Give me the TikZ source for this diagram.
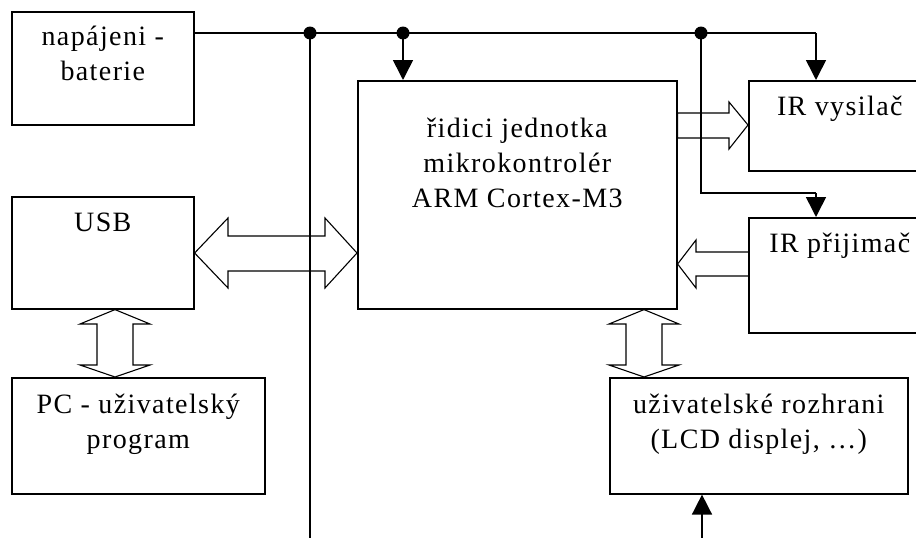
\documentclass[tikz,border=0pt]{standalone}
\usepackage{fontspec}
\setmainfont[LetterSpace=5]{Liberation Serif}
\usetikzlibrary{arrows.meta,calc}
\newcommand\tstrut{\rule{0pt}{28pt}}
\begin{document}
\begin{tikzpicture}[x=1pt,y=-1pt,
  box/.style={draw, line width=1.6pt, anchor=north west, inner sep=0pt, rectangle},
  txt/.style={font=\fontsize{28}{35}\selectfont, align=center, inner sep=0pt, anchor=north},
  wire/.style={line width=1.6pt},
  tip/.style={-{Triangle[width=20pt,length=20pt]}},
  hollow/.style={line width=1.1pt, line join=miter},
  jdot/.style={radius=6.5pt}
]
\clip (0,0) rectangle (916,538);
% boxes
\node[box, minimum width=182pt, minimum height=113pt] (bat) at (11,11) {};
\node[box, minimum width=182pt, minimum height=112pt] (usb) at (11,196) {};
\node[box, minimum width=253pt, minimum height=116pt] (pc)  at (11,377) {};
\node[box, minimum width=319pt, minimum height=228pt] (mcu) at (357,80) {};
\node[box, minimum width=182pt, minimum height=90pt]  (irv) at (748,80) {};
\node[box, minimum width=182pt, minimum height=115pt] (irp) at (748,217) {};
\node[box, minimum width=298pt, minimum height=116pt] (ui)  at (609,377) {};
% texts
\node[txt] (tbat) at ($(bat.north)+(0,6)$) {\tstrut napájeni -\\baterie};
\node[txt] (tusb) at ($(usb.north)+(0,7)$) {\tstrut USB};
\node[txt] (tpc)  at ($(pc.north)+(0,8)$)  {\tstrut PC - uživatelský\\program};
\node[txt] (tmcu) at ($(mcu.north)+(0,29)$) {\tstrut řidici jednotka\\mikrokontrolér\\ARM Cortex-M3};
\node[txt] (tirv) at ($(irv.north)+(0,7)$) {\tstrut IR vysilač};
\node[txt] (tirp) at ($(irp.north)+(0,7)$) {\tstrut IR přijimač};
\node[txt] (tui)  at ($(ui.north)+(0,8)$)  {\tstrut uživatelské rozhrani\\(LCD displej, …)};
% power wiring
\coordinate (j1) at (310,33);
\coordinate (j2) at (403,33);
\coordinate (j3) at (701,33);
\coordinate (c1) at (816,33);
\coordinate (c2) at (816,193);
\coordinate (b1) at (310,538);
\coordinate (b2) at (702,538);
\draw[wire] (bat.east |- j1) -- (j1) -- (j2) -- (j3) -- (c1);
\draw[wire, tip] (c1) -- (c1 |- irv.north);
\draw[wire, tip] (j2) -- (j2 |- mcu.north);
\draw[wire] (j1) -- (b1);
\draw[wire] (j3) |- (c2);
\draw[wire, tip] (c2) -- (c2 |- irp.north);
\draw[wire, tip] (b2) -- (b2 |- ui.south);
\fill (j1) circle[jdot];
\fill (j2) circle[jdot];
\fill (j3) circle[jdot];
% hollow arrows
% USB <-> MCU
\draw[hollow] (usb.east |- 0,253) -- (228,218) -- (228,236) -- (325,236) -- (325,218)
  -- (mcu.west |- 0,253) -- (325,288) -- (325,271) -- (228,271) -- (228,288) -- cycle;
% USB <-> PC
\draw[hollow] (usb.south -| 115,0) -- (150,324) -- (133,324) -- (133,365) -- (150,365)
  -- (pc.north -| 115,0) -- (80,365) -- (97,365) -- (97,324) -- (80,324) -- cycle;
% MCU <-> UI
\draw[hollow] (mcu.south -| 644,0) -- (679,324) -- (662,324) -- (662,365) -- (679,365)
  -- (ui.north -| 644,0) -- (609,365) -- (626,365) -- (626,324) -- (609,324) -- cycle;
% MCU -> IR vysilac
\draw[hollow] (mcu.east |- 0,113) -- (729,113) -- (729,102) -- (irv.west |- 0,125)
  -- (729,149) -- (729,138) -- (mcu.east |- 0,138) -- cycle;
% IR prijimac -> MCU
\draw[hollow] (irp.west |- 0,252) -- (696,252) -- (696,240) -- (mcu.east |- 0,264)
  -- (696,288) -- (696,276) -- (irp.west |- 0,276);
\end{tikzpicture}
\end{document}
